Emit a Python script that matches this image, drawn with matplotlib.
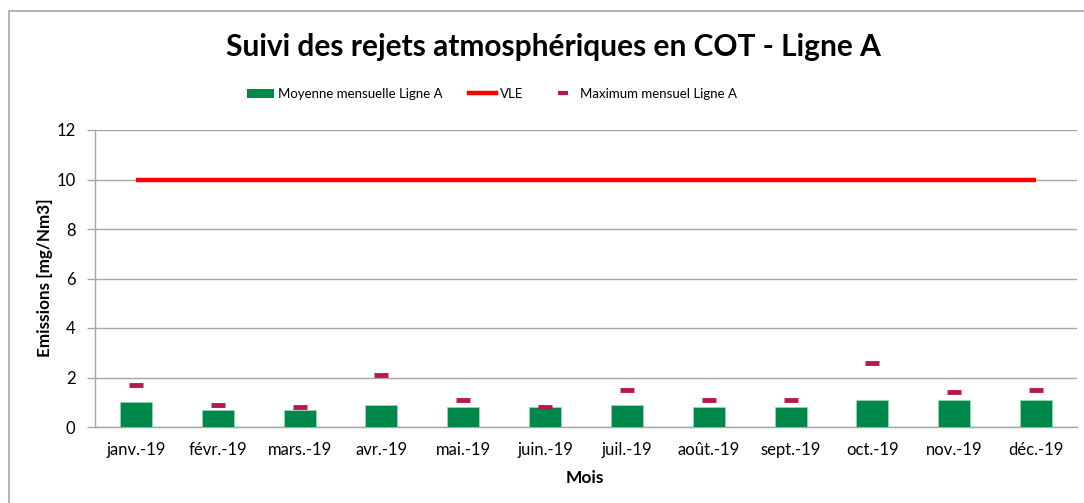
import matplotlib
matplotlib.use("Agg")
import matplotlib.pyplot as plt
from matplotlib.lines import Line2D
from matplotlib.patches import Patch, Rectangle

plt.rcParams['font.family'] = ['Lato', 'DejaVu Sans']

months = ["janv.-19", "févr.-19", "mars.-19", "avr.-19", "mai.-19", "juin.-19",
          "juil.-19", "août.-19", "sept.-19", "oct.-19", "nov.-19", "déc.-19"]
moyenne = [1.0, 0.7, 0.7, 0.9, 0.8, 0.8, 0.9, 0.8, 0.8, 1.1, 1.1, 1.1]
vle = [10] * 12
maximum = [1.7, 0.9, 0.8, 2.1, 1.1, 0.8, 1.5, 1.1, 1.1, 2.6, 1.4, 1.5]

title = "Suivi des rejets atmosphériques en COT - Ligne A"
labels = ["Moyenne mensuelle Ligne A", "VLE", "Maximum mensuel Ligne A"]

fig = plt.figure(figsize=(10.84, 5.03), dpi=100)
ax = fig.add_axes([95 / 1084, 76 / 503, (1077 - 95) / 1084, (427 - 130) / 503])

# outer chart border
fig.patches.append(Rectangle((9 / 1084, -0.1), 1.2, (503 - 11) / 503 + 0.1,
                             transform=fig.transFigure, fill=False,
                             edgecolor="#A6A6A6", linewidth=1.2))

x = list(range(len(months)))
green = "#00884A"
ax.bar(x, moyenne, width=0.39, color=green, edgecolor="#9FD3B5", linewidth=0.6, zorder=3)
ax.plot(x, vle, color="#FF0000", linewidth=3.2, zorder=4, solid_capstyle="butt")
ax.plot(x, maximum, linestyle="none", marker="_", markersize=10, markeredgewidth=3.5,
        color="#B8194C", zorder=5)

ax.set_xlim(-0.5, len(months) - 0.5)
ax.set_ylim(0, 12)
ax.set_yticks(range(0, 13, 2))
ax.set_xticks(x)
ax.set_xticklabels(months)
ax.tick_params(axis="x", length=0, pad=11, labelsize=12, colors="#000000")
ax.tick_params(axis="y", length=6, width=1, color="#A6A6A6", pad=8, labelsize=12)
ax.yaxis.grid(True, color="#A6A6A6", linewidth=1)
ax.set_axisbelow(True)
for s in ["top", "right"]:
    ax.spines[s].set_visible(False)
for s in ["left", "bottom"]:
    ax.spines[s].set_color("#A6A6A6")
    ax.spines[s].set_linewidth(1)

ax.set_xlabel("Mois", fontsize=12.5, fontweight="bold", va="center")
ax.xaxis.set_label_coords((585 - 95) / 982, (427 - 478) / 297)
ax.set_ylabel("Emissions [mg/Nm3]", fontsize=12.3, fontweight="bold", va="center")
ax.yaxis.set_label_coords((45 - 95) / 982, (427 - 278) / 297)

fig.text(553 / 1084, 1 - 47 / 503, title, ha="center", va="center",
         fontsize=21.5, fontweight="bold")

handles = [Patch(facecolor=green, edgecolor="none"),
           Line2D([], [], color="#FF0000", linewidth=3.2),
           Line2D([], [], linestyle="none", marker="_", markersize=7.5,
                  markeredgewidth=3, color="#B8194C")]
fig.legend(handles, labels, loc="center", bbox_to_anchor=(492 / 1084, 1 - 94 / 503),
           ncol=3, frameon=False, fontsize=9.5, handlelength=2.1, handletextpad=0.25,
           columnspacing=2.0)

fig.savefig("out.png", dpi=100)
